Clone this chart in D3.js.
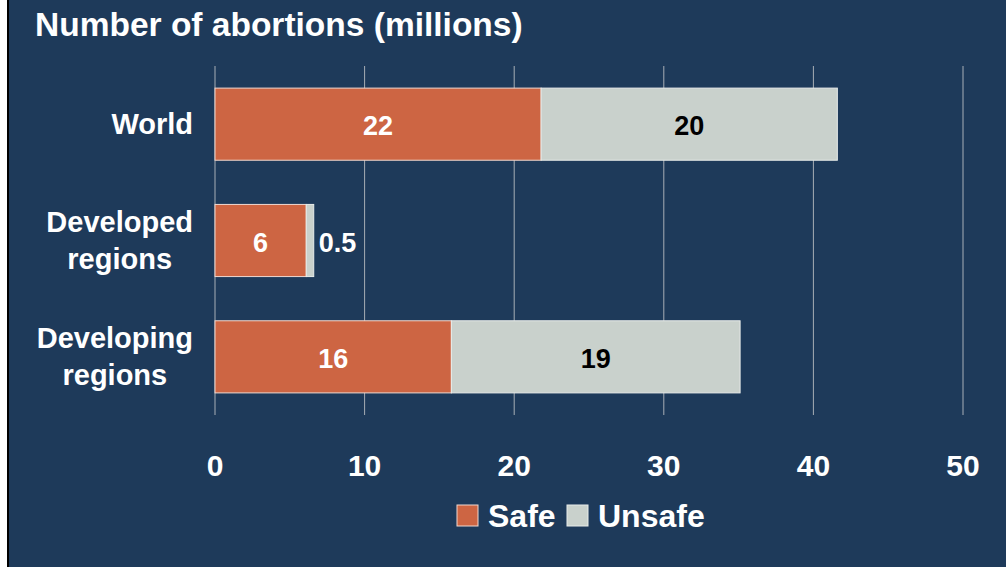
<!DOCTYPE html>
<html>
<head>
<meta charset="utf-8">
<script src="https://cdn.jsdelivr.net/npm/d3@7"></script>
<style>
  body { margin: 0; background: #fff; }
  svg { display: block; font-family: "Liberation Sans", Arial, sans-serif; font-weight: bold; }
</style>
</head>
<body>
<div id="chart"></div>
<script>
// chart values
var regions = ["World", "Developed regions", "Developing regions"];
var regionLines = [["World"], ["Developed", "regions"], ["Developing", "regions"]];
var safe = [21.8, 6.1, 15.8];
var unsafe = [19.8, 0.5, 19.3];
var safeLabels = ["22", "6", "16"];
var unsafeLabels = ["20", "0.5", "19"];
var ticks = [0, 10, 20, 30, 40, 50];
var seriesNames = ["Safe", "Unsafe"];

var W = 1006, H = 567;
var navy = "#1e3a5a", orange = "#cd6543", grey = "#c9d1cc";

var svg = d3.select("#chart").append("svg")
	.attr("width", W)
	.attr("height", H);

// background panel with black left edge
svg.append("rect").attr("x", 8).attr("y", 0).attr("width", W - 8).attr("height", H).attr("fill", navy);
svg.append("line").attr("x1", 8).attr("x2", 8).attr("y1", 0).attr("y2", H)
	.attr("stroke", "#000").attr("stroke-width", 2);

svg.append("text")
	.attr("x", 35).attr("y", 36)
	.attr("fill", "#fff")
	.style("font-size", "33.5px")
	.text("Number of abortions (millions)");

var x = d3.scaleLinear().domain([0, 50]).range([215, 963]);
var y = d3.scaleBand().domain(regions).range([66, 415]).paddingInner(0.38).paddingOuter(0.19);

// gridlines
svg.append("g").selectAll("line")
	.data(ticks)
	.enter().append("line")
	.attr("x1", function(d) { return x(d); })
	.attr("x2", function(d) { return x(d); })
	.attr("y1", 66).attr("y2", 415)
	.attr("stroke", "#a7aeb6")
	.attr("stroke-width", 1);

// tick labels
svg.append("g").selectAll("text")
	.data(ticks)
	.enter().append("text")
	.attr("x", function(d) { return x(d); })
	.attr("y", 476)
	.attr("text-anchor", "middle")
	.attr("fill", "#fff")
	.style("font-size", "30px")
	.text(function(d) { return d; });

// bars
var rows = svg.append("g").selectAll("g")
	.data(regions)
	.enter().append("g");

rows.append("rect")
	.attr("x", x(0))
	.attr("y", function(d) { return y(d); })
	.attr("width", function(d, i) { return x(safe[i]) - x(0); })
	.attr("height", y.bandwidth())
	.attr("fill", orange)
	.attr("stroke", "#f0d8cf")
	.attr("stroke-width", 1);

rows.append("rect")
	.attr("x", function(d, i) { return x(safe[i]); })
	.attr("y", function(d) { return y(d); })
	.attr("width", function(d, i) { return x(safe[i] + unsafe[i]) - x(safe[i]); })
	.attr("height", y.bandwidth())
	.attr("fill", grey)
	.attr("stroke", "#e8ecea")
	.attr("stroke-width", 1);

// value labels
rows.append("text")
	.attr("x", function(d, i) { return (x(0) + x(safe[i])) / 2; })
	.attr("y", function(d) { return y(d) + y.bandwidth() / 2 + 11; })
	.attr("text-anchor", "middle")
	.attr("fill", "#fff")
	.style("font-size", "27px")
	.text(function(d, i) { return safeLabels[i]; });

rows.append("text")
	.attr("x", function(d, i) {
		var w = x(safe[i] + unsafe[i]) - x(safe[i]);
		return w < 40 ? x(safe[i] + unsafe[i]) + 5 : (x(safe[i]) + x(safe[i] + unsafe[i])) / 2;
	})
	.attr("y", function(d) { return y(d) + y.bandwidth() / 2 + 11; })
	.attr("text-anchor", function(d, i) { return (x(safe[i] + unsafe[i]) - x(safe[i])) < 40 ? "start" : "middle"; })
	.attr("fill", function(d, i) { return (x(safe[i] + unsafe[i]) - x(safe[i])) < 40 ? "#fff" : "#000"; })
	.style("font-size", "27px")
	.text(function(d, i) { return unsafeLabels[i]; });

// category labels: block right-aligned at 193, lines centred within the block
rows.append("text")
	.attr("text-anchor", "middle")
	.attr("fill", "#fff")
	.style("font-size", "29px")
	.each(function(d, i) {
		var lines = regionLines[i];
		var cy = y(d) + y.bandwidth() / 2;
		var t = d3.select(this);
		var spans = lines.map(function(l, k) {
			return t.append("tspan")
				.attr("y", cy + 10 + (k - (lines.length - 1) / 2) * 37)
				.text(l);
		});
		var maxW = d3.max(spans, function(s) { return s.node().getComputedTextLength(); });
		spans.forEach(function(s) { s.attr("x", 193 - maxW / 2); });
	});

// legend
var legend = svg.append("g");
var legX = [457, 567];
var legColors = [orange, grey];
seriesNames.forEach(function(s, i) {
	legend.append("rect")
		.attr("x", legX[i]).attr("y", 505)
		.attr("width", 21).attr("height", 21)
		.attr("fill", legColors[i])
		.attr("stroke", i == 0 ? "#f0d8cf" : "#e8ecea");
	legend.append("text")
		.attr("x", legX[i] + 31).attr("y", 527)
		.attr("fill", "#fff")
		.style("font-size", "32px")
		.text(s);
});
</script>
</body>
</html>
